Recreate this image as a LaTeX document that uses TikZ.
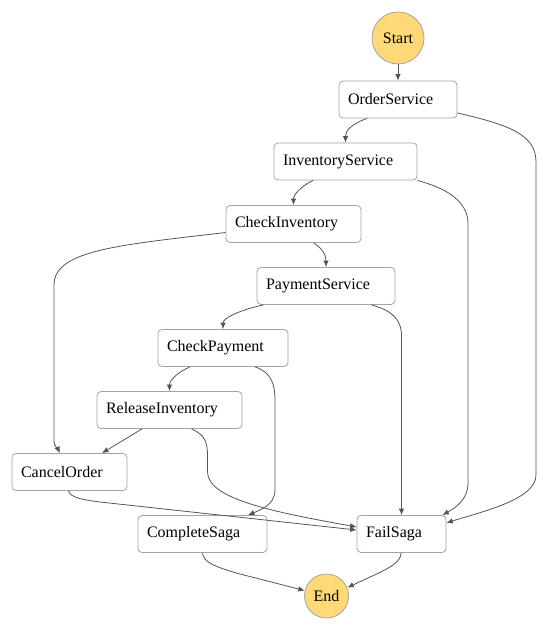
\documentclass[tikz,border=0pt]{standalone}
\usepackage{fontspec}
\setmainfont{Liberation Serif}
\usetikzlibrary{arrows.meta}
\definecolor{boxgray}{HTML}{A3A3A3}
\definecolor{linegray}{HTML}{555555}
\definecolor{termfill}{HTML}{FFD977}
\begin{document}
\begin{tikzpicture}[x=1pt,y=-1pt,
  font=\fontsize{16}{19}\selectfont,
  state/.style={draw=boxgray, line width=0.8pt, fill=white, rounded corners=4pt,
    minimum height=37pt, inner xsep=9pt, inner ysep=0pt, align=left},
  term/.style={circle, draw=boxgray, line width=0.8pt, fill=termfill, inner sep=0pt},
  edge/.style={draw=linegray, line width=0.8pt, -{Latex[length=6.5pt,width=5.5pt]}}]
\useasboundingbox (0,0) rectangle (548,631);
% terminals
\node[term, minimum size=52pt] (start) at (398,38) {Start};
\node[term, minimum size=44pt] (end) at (326.5,596) {End};
% states
\node[state, text width=100pt] (os)  at (398,99.5)  {OrderService};
\node[state, text width=125pt] (inv) at (345.5,161.5) {InventoryService};
\node[state, text width=117pt] (ci)  at (293.5,224) {CheckInventory};
\node[state, text width=120pt] (ps)  at (326,286)   {PaymentService};
\node[state, text width=112pt] (cp)  at (223,348)   {CheckPayment};
\node[state, text width=127pt] (ri)  at (169.5,410) {ReleaseInventory};
\node[state, text width=97pt]  (co)  at (69.5,472)  {CancelOrder};
\node[state, text width=111pt] (cs)  at (202.5,534) {CompleteSaga};
\node[state, text width=71pt]  (fs)  at (401.5,534) {FailSaga};
% connectors
\draw[edge] (start) -- (os);
\draw[edge] ([xshift=-31pt]os.south) .. controls (352,124) and (345.5,130) .. (inv.north);
\draw[edge] ([yshift=-13.5pt]os.east) .. controls (510,125) and (536,135) .. (536,162)
  -- (536,475) .. controls (536,500) and (480,512) .. ([yshift=11pt]fs.east);
\draw[edge] ([xshift=-32.5pt]inv.south) .. controls (300,187) and (293.5,195) .. (ci.north);
\draw[edge] (inv.south east) .. controls (445,188) and (468,200) .. (468,224)
  -- (468,483) .. controls (468,500) and (455,508) .. ([xshift=-4pt]fs.north east);
\draw[edge] ([xshift=20pt]ci.south) .. controls (322,248) and (326,255) .. (ps.north);
\draw[edge] ([yshift=-8.5pt]ci.west) .. controls (120,245) and (54,250) .. (54,285)
  -- (54,440) .. controls (54,447) and (58,449) .. ([xshift=-9.5pt]co.north);
\draw[edge] ([xshift=-62.5pt]ps.south) .. controls (240,310) and (223,318) .. (cp.north);
\draw[edge] ([xshift=45.5pt]ps.south) .. controls (390,310) and (401.5,318) .. (401.5,336)
  -- (fs.north);
\draw[edge] ([xshift=-33pt]cp.south) .. controls (178,372) and (169.5,380) .. (ri.north);
\draw[edge] ([xshift=32pt]cp.south) .. controls (270,372) and (275,382) .. (275,400)
  -- (275,490) .. controls (275,505) and (260,510) .. ([xshift=45.5pt]cs.north);
\draw[edge] ([xshift=-27.5pt]ri.south) -- ([xshift=32.5pt]co.north);
\draw[edge] ([xshift=22pt]ri.south) .. controls (205,435) and (207.5,442) .. (207.5,456)
  -- (207.5,472) .. controls (207.5,500) and (280,513) .. ([yshift=7pt]fs.west);
\draw[edge] ([xshift=-1pt]co.south) .. controls (70,498) and (85,500) .. (100,502)
  -- ([yshift=4pt]fs.west);
\draw[edge] (cs.south) .. controls (203,562) and (215,567) .. (240,574) -- (end.166);
\draw[edge] ([xshift=-0.5pt]fs.south) .. controls (401,562) and (390,568) .. (370,577) -- (end.22);
\end{tikzpicture}
\end{document}
